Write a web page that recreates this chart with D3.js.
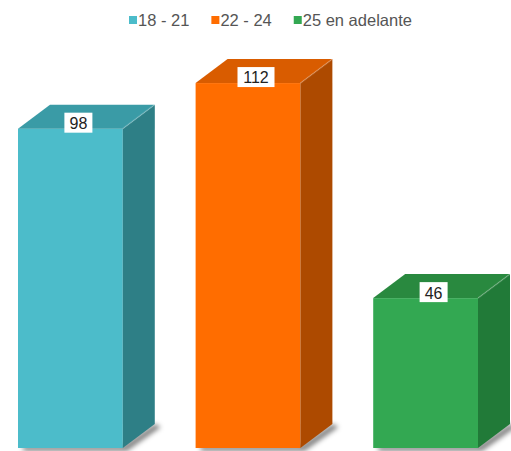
<!DOCTYPE html>
<html><head><meta charset="utf-8">
<script src="https://cdn.jsdelivr.net/npm/d3@7"></script>
<style>body{margin:0;background:#fff;}svg{display:block;}</style>
</head><body>
<svg id="chart" width="511" height="451"></svg>
<script>
const categories = ["18 - 21", "22 - 24", "25 en adelante"];
const values = [98, 112, 46];
const frontColors = ["#4cbcca", "#ff6d00", "#33a852"];
const sideColors = ["#2e7f86", "#ad4a00", "#217a38"];
const topColors = ["#3a9ba6", "#d95c00", "#29893f"];

const W = 511, H = 451;
const svg = d3.select("#chart");
const depthX = 32, depthY = 24;

const x = d3.scaleBand().domain(categories).range([18, 478]).paddingInner(0.41).paddingOuter(0);
const y = d3.scaleLinear().domain([0, 120]).range([448, 57]);

const defs = svg.append("defs");
const f = defs.append("filter").attr("id", "blur").attr("x", "-20%").attr("y", "-50%").attr("width", "140%").attr("height", "200%");
f.append("feGaussianBlur").attr("stdDeviation", 2.5);

const data = categories.map((c, i) => ({c, v: values[i], i}));
const g = svg.selectAll("g.bar").data(data).enter().append("g").attr("class", "bar");

// shadow
g.append("path")
  .attr("d", d => {
    const x0 = x(d.c), x1 = x0 + x.bandwidth(), b = y(0);
    return `M${x0+4},${b-2} L${x1},${b-2} L${x1+depthX},${b-depthY} L${x1+depthX+6},${b-depthY+3} L${x1+4},${b+3} L${x0+6},${b+3} Z`;
  })
  .attr("fill", "rgba(0,0,0,0.5)").attr("filter", "url(#blur)");

// front
g.append("rect")
  .attr("x", d => x(d.c)).attr("y", d => y(d.v))
  .attr("width", x.bandwidth()).attr("height", d => y(0) - y(d.v))
  .attr("fill", d => frontColors[d.i]);
// side
g.append("path")
  .attr("d", d => {
    const x1 = x(d.c) + x.bandwidth(), t = y(d.v), b = y(0);
    return `M${x1},${t} L${x1+depthX},${t-depthY} L${x1+depthX},${b-depthY} L${x1},${b} Z`;
  })
  .attr("fill", d => sideColors[d.i]);
// top
g.append("path")
  .attr("d", d => {
    const x0 = x(d.c), x1 = x0 + x.bandwidth(), t = y(d.v);
    return `M${x0},${t} L${x0+depthX},${t-depthY} L${x1+depthX},${t-depthY} L${x1},${t} Z`;
  })
  .attr("fill", d => topColors[d.i]);
// highlight edge
g.append("path")
  .attr("d", d => {
    const x1 = x(d.c) + x.bandwidth(), t = y(d.v);
    return `M${x1},${t} L${x1+depthX},${t-depthY}`;
  })
  .attr("stroke", "rgba(255,255,255,0.18)").attr("stroke-width", 1.5).attr("fill", "none");

// labels
const lab = g.append("g")
  .attr("transform", d => `translate(${x(d.c) + x.bandwidth()/2 + 8},${y(d.v) - 6})`);
lab.append("rect").attr("x", d => -(String(d.v).length*4.5 + 5)).attr("y", -10)
  .attr("width", d => String(d.v).length*9 + 10).attr("height", 20).attr("fill", "#fff");
lab.append("text").attr("text-anchor", "middle").attr("dy", "0.4em")
  .attr("font-family", "Arial, 'Liberation Sans', sans-serif").attr("font-size", 16)
  .attr("fill", "#222").text(d => d.v);

// legend
const legend = svg.append("g").attr("font-family", "Arial, 'Liberation Sans', sans-serif").attr("font-size", 16.5).attr("fill", "#555");
let lx = 0;
const items = legend.selectAll("g").data(categories).enter().append("g");
items.append("rect").attr("width", 8).attr("height", 8).attr("y", -4).attr("fill", (d, i) => frontColors[i]);
items.append("text").attr("x", 9).attr("dy", "0.36em").text(d => d);
items.each(function() {
  d3.select(this).attr("transform", `translate(${lx},20)`);
  lx += this.getBBox().width + 22;
});
legend.attr("transform", `translate(129,0)`);
</script>
</body></html>
